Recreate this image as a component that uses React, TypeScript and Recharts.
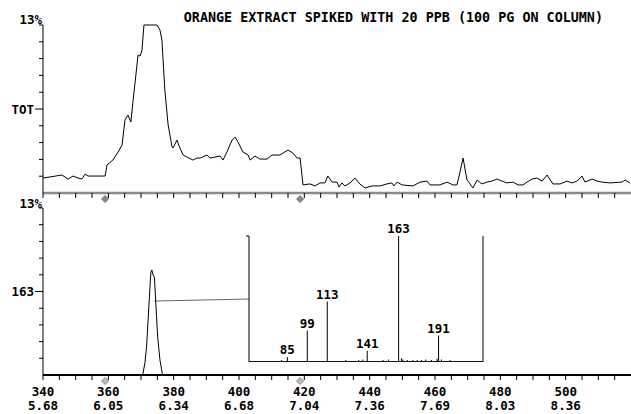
import React from "react";
import {
  LineChart,
  Line,
  XAxis,
  YAxis,
  ReferenceDot,
  ReferenceLine,
  ComposedChart,
  Bar,
  LabelList,
} from "recharts";

// scan axis
const scanTicks = [
  340, 345, 350, 355, 360, 365, 370, 375, 380, 385, 390, 395, 400, 405, 410, 415, 420, 425,
  430, 435, 440, 445, 450, 455, 460, 465, 470, 475, 480, 485, 490, 495, 500, 505, 510, 515,
];
const scanLabels = [340, 360, 380, 400, 420, 440, 460, 480, 500];
const timeLabels = ["5.68", "6.05", "6.34", "6.68", "7.04", "7.36", "7.69", "8.03", "8.36"];
const yTicks = [0, 10, 20, 30, 40, 50, 60, 70, 80, 90, 100];

// total ion current (TOT), % of 13%
const totScans = [
  340, 345.8, 347.7, 349.2, 350.7, 351.9, 352.9, 353.8, 359.0, 359.6, 361.4, 363.0, 364.2,
  365.1, 366.0, 366.9, 367.6, 369.1, 369.7, 370.3, 370.9, 374.9, 375.8, 376.4, 377.3, 378.3,
  379.5, 379.8, 381.0, 381.9, 382.9, 384.1, 385.9, 387.1, 388.1, 390.2, 391.1, 394.2, 395.1,
  396.3, 397.9, 398.8, 399.7, 401.2, 402.8, 403.4, 404.9, 406.4, 408.6, 410.1, 412.5, 415.0,
  416.5, 417.8, 418.7, 419.6, 421.7, 423.3, 424.8, 426.3, 427.2, 428.5, 430.0, 430.6, 431.5,
  432.4, 434.0, 435.5, 437.0, 438.6, 440.7, 443.2, 445.3, 446.8, 447.4, 448.4, 449.9, 453.3,
  455.4, 457.5, 458.5, 461.5, 463.7, 465.5, 466.7, 467.3, 468.6, 469.8, 470.1, 471.6, 472.9,
  474.4, 475.9, 477.4, 479.0, 480.5, 482.0, 483.9, 485.4, 486.9, 488.2, 489.7, 491.2, 492.8,
  494.3, 496.1, 498.3, 500.4, 501.9, 503.5, 505.0, 505.9, 508.1, 509.6, 511.1, 513.6, 517.2,
  518.2, 519.7,
];
const totValues = [
  8.9, 10.7, 8.3, 10.1, 8.9, 8.3, 11.3, 10.1, 10.1, 16.7, 19.6, 24.4, 28.6,
  43.5, 46.4, 42.3, 55.4, 82.1, 81.5, 85.1, 100, 100, 97.0, 91.1, 61.3, 40.5,
  27.4, 26.8, 31.5, 26.8, 22.6, 21.4, 19.6, 20.8, 20.8, 22.6, 20.8, 22.0, 19.6,
  24.4, 31.5, 33.3, 30.4, 24.4, 22.6, 19.6, 22.0, 20.2, 20.2, 22.6, 22.6, 25.6,
  23.8, 20.8, 20.8, 4.8, 5.4, 4.2, 6.0, 6.0, 10.1, 6.5, 6.5, 3.6, 6.0,
  4.2, 6.0, 8.9, 5.4, 3.0, 4.2, 4.2, 5.4, 6.0, 4.2, 6.5, 4.8, 4.2,
  6.5, 7.1, 4.8, 4.8, 6.5, 4.8, 4.8, 9.5, 20.8, 7.7, 7.1, 3.0, 7.7,
  5.4, 6.5, 7.1, 8.3, 7.1, 6.0, 6.5, 4.8, 4.8, 6.5, 8.3, 8.9, 7.1,
  10.7, 5.4, 5.4, 7.1, 6.0, 7.1, 10.1, 6.5, 8.3, 7.1, 6.5, 6.0, 6.5,
  7.7, 6.0,
];

// mass 163 chromatogram
const ionScans = [340, 370.5, 371.2, 371.7, 372.4, 373.0, 373.3, 373.8, 374.1, 374.6, 375.1, 375.8, 376.6, 520];
const ionValues = [0, 0, 7.2, 16.8, 40.7, 61.1, 62.9, 59.3, 58.7, 40.7, 22.8, 9.0, 0, 0];

// scan markers
const markerScans = [359, 418.7];

// connector from peak to spectrum
const linkScans = [374.1, 403.1];
const linkValues = [44.3, 45.5];

// mass spectrum at the peak
const massRange = [58, 222];
const masses = [81, 85, 99, 113, 126, 135, 138, 141, 152, 156, 163, 165, 166, 169, 173, 176, 179, 182, 186, 190, 191, 193, 199];
const massIntensity = [1.5, 4, 25, 48, 1.5, 1.5, 2, 9, 1.5, 2, 100, 3, 2, 1.5, 1.5, 1.5, 1.5, 2, 1.5, 2.5, 21, 2, 1.5];
const labelledMasses = [85, 99, 113, 141, 163, 191];

const FONT = "'DejaVu Sans Mono', 'Liberation Mono', monospace";

const totData = totScans.map((s, i) => ({ scan: s, tot: totValues[i] }));
const ionData = ionScans.map((s, i) => ({ scan: s, ion: ionValues[i] }));
const massData = masses.map((m, i) => ({
  mass: m,
  intensity: massIntensity[i],
  label: labelledMasses.includes(m) ? String(m) : "",
}));

function Diamond({ cx, cy, fill, stroke }: any) {
  const r = 3.5;
  return (
    <polygon
      points={`${cx},${cy - r} ${cx + r},${cy} ${cx},${cy + r} ${cx - r},${cy}`}
      fill={fill}
      stroke={stroke}
      strokeWidth={1}
    />
  );
}

// y tick: short tick, longer one at mid-scale with the trace name, "13%" on top
const makeYTick = (midLabel: string, topDy: number) => (props: any) => {
  const { x, y, payload } = props;
  const v = payload.value;
  if (v === 0) return <g />;
  const long = v === 50;
  const len = long ? 8 : 4;
  return (
    <g>
      <rect x={x - len} y={y - 0.5} width={len} height={1} fill="#000" />
      {v === 100 && (
        <text x={x - 1} y={y + topDy} textAnchor="end" fontFamily={FONT} fontWeight="bold" fontSize={12.5} fill="#000">
          13%
        </text>
      )}
      {long && (
        <text x={x - 9} y={y + 4.5} textAnchor="end" fontFamily={FONT} fontWeight="bold" fontSize={12.5} fill="#000">
          {midLabel}
        </text>
      )}
    </g>
  );
};

// x tick: short tick below the axis (plus scan / time labels on the lower panel)
const makeScanTick = (withLabels: boolean) => (props: any) => {
  const { x, y, payload } = props;
  const idx = scanLabels.indexOf(payload.value);
  return (
    <g>
      <rect x={x - 0.5} y={y} width={1} height={5} fill="#000" />
      {withLabels && idx >= 0 && (
        <g fontFamily={FONT} fontWeight="bold" fontSize={12.5} fill="#000">
          <text x={x} y={y + 21} textAnchor="middle">{scanLabels[idx]}</text>
          <text x={x} y={y + 35} textAnchor="middle">{timeLabels[idx]}</text>
        </g>
      )}
    </g>
  );
};

const EmptyTick = () => <g />;

const MassLabel = (props: any) => {
  const { x, y, width, value } = props;
  if (!value) return null;
  return (
    <text x={x + width / 2} y={y - 3} textAnchor="middle" fontFamily={FONT} fontWeight="bold" fontSize={12.5} fill="#000">
      {value}
    </text>
  );
};

export default function App() {
  return (
    <div style={{ position: "absolute", left: 0, top: 0, width: 631, height: 414, background: "#fff", overflow: "hidden" }}>
      {/* TOT panel */}
      <div style={{ position: "absolute", left: 0, top: 0 }}>
        <LineChart width={631} height={205} data={totData} margin={{ top: 25, right: 0, left: 0, bottom: 0 }}>
          <XAxis
            dataKey="scan"
            type="number"
            domain={[340, 520]}
            ticks={scanTicks}
            interval={0}
            allowDataOverflow
            height={12}
            tickSize={0}
            tickMargin={0}
            tickLine={false}
            axisLine={{ stroke: "#8a8a8a", strokeWidth: 2.5 }}
            tick={makeScanTick(false)}
          />
          <YAxis
            domain={[0, 100]}
            ticks={yTicks}
            interval={0}
            width={43}
            tickSize={0}
            tickMargin={0}
            tickLine={false}
            axisLine={{ stroke: "#000" }}
            tick={makeYTick("TOT", -1.5)}
          />
          <Line dataKey="tot" type="linear" stroke="#000" strokeWidth={1} dot={false} isAnimationActive={false} />
          {markerScans.map((s) => (
            <ReferenceDot
              key={s}
              x={s}
              y={0}
              ifOverflow="visible"
              shape={(p: any) => <Diamond cx={p.cx} cy={p.cy + 6} fill="#888" stroke="#777" />}
            />
          ))}
        </LineChart>
      </div>

      {/* mass 163 panel */}
      <div style={{ position: "absolute", left: 0, top: 195 }}>
        <LineChart width={631} height={219} data={ionData} margin={{ top: 13, right: 0, left: 0, bottom: 0 }}>
          <XAxis
            dataKey="scan"
            type="number"
            domain={[340, 520]}
            ticks={scanTicks}
            interval={0}
            allowDataOverflow
            height={39}
            tickSize={0}
            tickMargin={0}
            tickLine={false}
            axisLine={{ stroke: "#000", strokeWidth: 2 }}
            tick={makeScanTick(true)}
          />
          <YAxis
            domain={[0, 100]}
            ticks={yTicks}
            interval={0}
            width={43}
            tickSize={0}
            tickMargin={0}
            tickLine={false}
            axisLine={{ stroke: "#000" }}
            tick={makeYTick("163", -0.5)}
          />
          <ReferenceLine
            segment={[
              { x: linkScans[0], y: linkValues[0] },
              { x: linkScans[1], y: linkValues[1] },
            ]}
            stroke="#666"
            ifOverflow="visible"
          />
          <Line dataKey="ion" type="linear" stroke="#000" strokeWidth={1} dot={false} isAnimationActive={false} />
          {markerScans.map((s) => (
            <ReferenceDot
              key={s}
              x={s}
              y={0}
              ifOverflow="visible"
              shape={(p: any) => <Diamond cx={p.cx} cy={p.cy + 6} fill="#bbb" stroke="#888" />}
            />
          ))}
        </LineChart>
      </div>

      {/* spectrum inset */}
      <div style={{ position: "absolute", left: 245, top: 220 }}>
        <ComposedChart width={242} height={142} data={massData} margin={{ top: 16, right: 0, left: 0, bottom: 0 }}>
          <XAxis dataKey="mass" type="number" domain={massRange} hide />
          <YAxis
            yAxisId="l"
            domain={[0, 100]}
            ticks={[100]}
            width={4}
            tickSize={3}
            axisLine={{ stroke: "#000" }}
            tickLine={{ stroke: "#000" }}
            tick={EmptyTick}
          />
          <YAxis
            yAxisId="r"
            orientation="right"
            domain={[0, 100]}
            ticks={[100]}
            width={4}
            tickSize={3}
            axisLine={{ stroke: "#000" }}
            tickLine={{ stroke: "#888" }}
            tick={EmptyTick}
          />
          <ReferenceLine yAxisId="l" y={0} stroke="#111" strokeWidth={2} ifOverflow="visible" />
          <Bar yAxisId="l" dataKey="intensity" barSize={1} fill="#000" isAnimationActive={false}>
            <LabelList dataKey="label" content={MassLabel} />
          </Bar>
        </ComposedChart>
      </div>

      {/* title */}
      <svg width={631} height={30} style={{ position: "absolute", left: 0, top: 0 }}>
        <text x={603} y={22} textAnchor="end" fontFamily={FONT} fontWeight="bold" fontSize={13.4} fill="#000">
          ORANGE EXTRACT SPIKED WITH 20 PPB (100 PG ON COLUMN)
        </text>
      </svg>
    </div>
  );
}
